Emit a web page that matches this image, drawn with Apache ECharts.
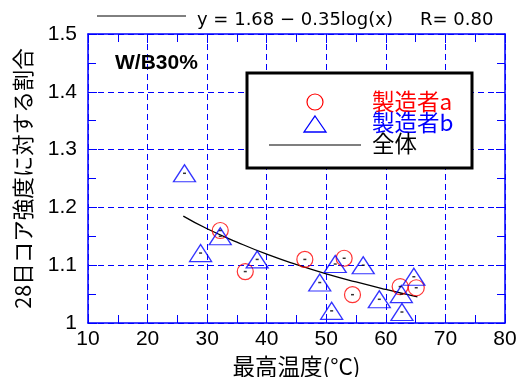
<!DOCTYPE html>
<html><head><meta charset="utf-8">
<script src="https://cdn.jsdelivr.net/npm/echarts@6/dist/echarts.min.js"></script>
<style>html,body{margin:0;padding:0;background:#fff}#c{width:519px;height:377px}</style>
</head><body><div id="c"></div>
<script>
const xTicks = [10, 80, 10];           // min, max, interval
const yTicks = [1, 1.5, 0.1];
const mfrA_x = [32.2, 36.4, 46.4, 53.0, 54.4, 62.4, 65.1];
const mfrA_y = [1.160, 1.089, 1.110, 1.112, 1.049, 1.063, 1.061];
const mfrB_x = [26.2, 28.9, 32.2, 38.4, 48.9, 50.9, 51.5, 56.2, 58.9, 62.6, 62.7, 64.7];
const mfrB_y = [1.259, 1.121, 1.150, 1.110, 1.070, 1.021, 1.102, 1.100, 1.041, 1.050, 1.019, 1.080];
const fit_x = [26, 30, 35, 40, 45, 50, 55, 60, 65.3];
const fit_y = [1.185, 1.163, 1.140, 1.119, 1.101, 1.085, 1.071, 1.058, 1.045];
const seriesNames = ['製造者a', '製造者b', '全体'];
const titleEq = 'y = 1.68 − 0.35log(x)';
const titleR = 'R= 0.80';
const panelText = 'W/B30%';
const xName = '最高温度(°C)';
const yName = '28日コア強度に対する割合';

const TICKFONT = '"Liberation Sans Narrow", "Liberation Sans", sans-serif';
const CJK = '"Noto Sans CJK JP", "Liberation Sans", sans-serif';
const TITLEFONT = '"DejaVu Sans", sans-serif';
const BLUE = '#0000ff', RED = '#ff0000';
const zip = (a, b) => a.map((v, i) => [v, b[i]]);

function axisCommon(show) {
  return {
    axisLine: { show: true, lineStyle: { color: BLUE, width: 1.5 } },
    axisTick: { show: true, inside: true, length: 9, lineStyle: { color: BLUE } },
    minorTick: { show: true, splitNumber: 2, length: 8, lineStyle: { color: BLUE } },
    splitLine: { show: show, lineStyle: { color: BLUE, type: [6, 4], width: 1 } }
  };
}

const chart = echarts.init(document.getElementById('c'), null, { renderer: 'canvas' });
chart.setOption({
  animation: false,
  backgroundColor: '#fff',
  grid: { left: 88, right: 14, top: 34, bottom: 54, containLabel: false, outerBoundsMode: 'none' },
  xAxis: [
    Object.assign({
      type: 'value', min: xTicks[0], max: xTicks[1], interval: xTicks[2], position: 'bottom',
      name: xName, nameLocation: 'middle', nameGap: 27,
      nameTextStyle: { fontFamily: CJK, fontSize: 22.5, color: '#000' },
      axisLabel: { fontFamily: TICKFONT, fontSize: 21, color: '#000', margin: 6 }
    }, axisCommon(true)),
    Object.assign({
      type: 'value', min: xTicks[0], max: xTicks[1], interval: xTicks[2], position: 'top',
      axisLabel: { show: false }
    }, axisCommon(false))
  ],
  yAxis: [
    Object.assign({
      type: 'value', min: yTicks[0], max: yTicks[1], interval: yTicks[2], position: 'left',
      name: yName, nameLocation: 'middle', nameGap: 54, nameRotate: 90,
      nameTextStyle: { fontFamily: CJK, fontSize: 21.5, color: '#000' },
      axisLabel: { fontFamily: TICKFONT, fontSize: 21, color: '#000', margin: 11 }
    }, axisCommon(true)),
    Object.assign({
      type: 'value', min: yTicks[0], max: yTicks[1], interval: yTicks[2], position: 'right',
      axisLabel: { show: false }
    }, axisCommon(false))
  ],
  series: [
    { name: seriesNames[2], type: 'line', smooth: true, showSymbol: false, symbol: 'none',
      data: zip(fit_x, fit_y), lineStyle: { color: '#000', width: 1.3 }, z: 2 },
    { name: seriesNames[0], type: 'scatter', symbol: 'circle', symbolSize: 16,
      data: zip(mfrA_x, mfrA_y),
      itemStyle: { color: 'rgba(0,0,0,0)', borderColor: RED, borderWidth: 1.2 }, z: 3 },
    { name: seriesNames[1], type: 'scatter', symbol: 'triangle', symbolSize: [22, 17],
      data: zip(mfrB_x, mfrB_y),
      itemStyle: { color: 'rgba(0,0,0,0)', borderColor: BLUE, borderWidth: 1.3 }, z: 3 },
    { name: 'dotA', type: 'scatter', symbol: 'rect', symbolSize: [3, 1.5], silent: true,
      data: zip(mfrA_x, mfrA_y), itemStyle: { color: '#000' }, z: 4 },
    { name: 'dotB', type: 'scatter', symbol: 'rect', symbolSize: [3, 1.5], silent: true,
      data: zip(mfrB_x, mfrB_y), itemStyle: { color: '#000' }, z: 4 }
  ],
  graphic: [
    { type: 'line', shape: { x1: 97, y1: 16, x2: 186, y2: 16 }, style: { stroke: '#000', lineWidth: 1 } },
    { type: 'text', style: { x: 197, y: 20, text: titleEq, font: '18px ' + TITLEFONT, fill: '#000', verticalAlign: 'middle' } },
    { type: 'text', style: { x: 420, y: 20, text: titleR, font: '18px ' + TITLEFONT, fill: '#000', verticalAlign: 'middle' } },
    { type: 'text', style: { x: 115, y: 63, text: panelText, font: 'bold 21px "Liberation Sans", sans-serif', fill: '#000', verticalAlign: 'middle' }, z: 10 },
    { type: 'rect', shape: { x: 247, y: 73, width: 225, height: 95 },
      style: { fill: '#fff', stroke: '#000', lineWidth: 3 }, z: 10 },
    { type: 'circle', shape: { cx: 315, cy: 102, r: 8 }, style: { fill: 'none', stroke: RED, lineWidth: 1.2 }, z: 11 },
    { type: 'polygon', shape: { points: [[315, 116], [326, 132], [304, 132]] },
      style: { fill: 'none', stroke: BLUE, lineWidth: 1.3 }, z: 11 },
    { type: 'line', shape: { x1: 269, y1: 145, x2: 361, y2: 145 }, style: { stroke: '#000', lineWidth: 1.2 }, z: 11 },
    { type: 'text', style: { x: 372, y: 101, text: seriesNames[0], font: '22.5px ' + CJK, fill: RED, verticalAlign: 'middle' }, z: 11 },
    { type: 'text', style: { x: 372, y: 122, text: seriesNames[1], font: '22.5px ' + CJK, fill: BLUE, verticalAlign: 'middle' }, z: 11 },
    { type: 'text', style: { x: 372, y: 143, text: seriesNames[2], font: '22.5px ' + CJK, fill: '#000', verticalAlign: 'middle' }, z: 11 }
  ]
});
</script></body></html>
